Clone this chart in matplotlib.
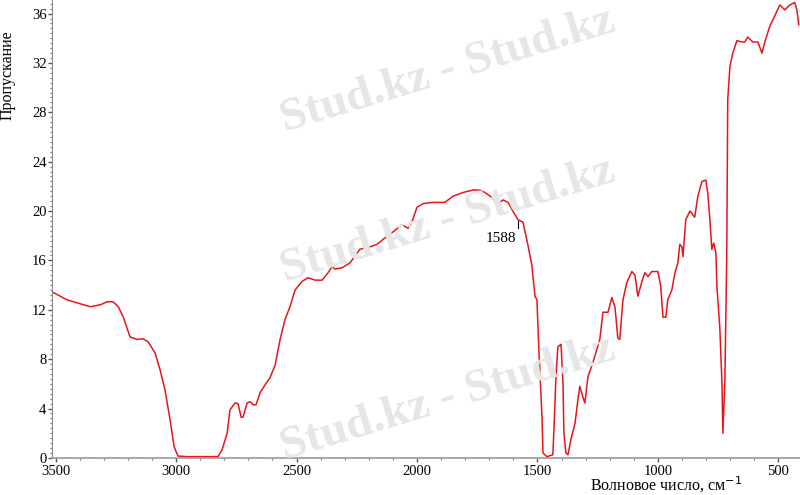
import numpy as np
import matplotlib.pyplot as plt
from matplotlib.ticker import MultipleLocator

# волновое число (см-1) и пропускание
wavenumber = [3510, 3452, 3357, 3315, 3286, 3261, 3240, 3220, 3191, 3162,
              3137, 3116, 3087, 3066, 3046, 3025, 3008, 2992, 2955, 2826,
              2809, 2788, 2776, 2755, 2743, 2730, 2722, 2705, 2693, 2680,
              2668, 2651, 2631, 2610, 2589, 2568, 2548, 2527, 2506, 2477,
              2452, 2423, 2394, 2369, 2353, 2340, 2311, 2278, 2237, 2195,
              2166, 2141, 2100, 2062, 2037, 2021, 2000, 1975, 1934, 1884,
              1851, 1809, 1768, 1739, 1718, 1689, 1664, 1643, 1622, 1602,
              1581, 1560, 1539, 1523, 1510, 1502, 1494, 1481, 1477, 1461,
              1436, 1432, 1423, 1415, 1402, 1394, 1390, 1382, 1373, 1361,
              1344, 1332, 1324, 1311, 1303, 1290, 1270, 1241, 1228, 1212,
              1207, 1191, 1178, 1166, 1158, 1145, 1129, 1108, 1095, 1083,
              1066, 1054, 1041, 1025, 1000, 988, 979, 967, 959, 942,
              929, 917, 909, 900, 896, 884, 867, 847, 834, 817,
              801, 793, 784, 776, 768, 759, 755, 743, 734, 730,
              722, 714, 710, 701, 689, 672, 651, 639, 627, 606,
              585, 568, 556, 535, 515, 494, 473, 452, 432, 423, 415]
transmission = [13.4, 12.8, 12.25, 12.4, 12.65, 12.65, 12.25, 11.45, 9.8, 9.6,
                9.65, 9.4, 8.5, 7.1, 5.5, 3.1, 0.9, 0.15, 0.1, 0.1,
                0.65, 2.0, 3.9, 4.45, 4.4, 3.3, 3.3, 4.45, 4.55, 4.3,
                4.3, 5.3, 5.9, 6.5, 7.5, 9.6, 11.2, 12.25, 13.6, 14.3,
                14.6, 14.4, 14.4, 15.0, 15.5, 15.3, 15.4, 15.8, 16.9, 17.1,
                17.3, 17.7, 18.3, 18.9, 18.6, 19.1, 20.3, 20.6, 20.7, 20.7,
                21.2, 21.5, 21.7, 21.7, 21.5, 21.1, 20.6, 20.9, 20.7, 20.0,
                19.3, 19.1, 17.2, 15.6, 13.1, 12.8, 8.8, 3.3, 0.4, 0.1,
                0.25, 2.0, 6.6, 9.0, 9.2, 6.1, 2.0, 0.4, 0.25, 1.5,
                2.8, 4.7, 5.8, 4.9, 4.45, 6.6, 7.7, 9.6, 11.8, 11.8,
                11.8, 13.0, 12.2, 9.7, 9.6, 12.8, 14.2, 15.1, 14.8, 13.1,
                14.3, 15.0, 14.7, 15.1, 15.1, 13.9, 11.4, 11.4, 12.8, 13.6,
                15.0, 15.8, 17.3, 17.1, 16.3, 19.3, 20.0, 19.5, 21.2, 22.4,
                22.5, 21.5, 19.3, 16.9, 17.4, 16.6, 13.9, 10.6, 6.1, 2.0,
                6.1, 16.5, 29.0, 31.7, 32.8, 33.8, 33.7, 33.7, 34.1, 33.7,
                33.7, 32.8, 33.7, 35.0, 35.8, 36.7, 36.3, 36.7, 36.9, 36.3, 35.1]

x_ticks = [3500, 3000, 2500, 2000, 1500, 1000, 500]
y_ticks = [0, 4, 8, 12, 16, 20, 24, 28, 32, 36]

plt.rcParams['font.family'] = ['Liberation Serif', 'DejaVu Serif']

fig = plt.figure(figsize=(8, 4.95), dpi=100)
ax = fig.add_axes([0.065, 0.075, 0.935, 0.925])

# водяной знак
for x0, y0 in [(285, 132), (285, 282), (285, 460)]:
    fig.text(x0 / 800, 1 - y0 / 495, 'Stud.kz - Stud.kz', fontsize=34,
             fontweight='bold', color='#e6e6e6', rotation=17,
             rotation_mode='anchor', ha='left', va='baseline', zorder=0)

ax.plot(wavenumber, transmission, color='#e8141c', lw=1.1)

ax.set_xlim(3515, 410)
ax.set_ylim(0, 37.1)
ax.set_xticks(x_ticks)
ax.set_yticks(y_ticks)
ax.xaxis.set_minor_locator(MultipleLocator(100))
ax.yaxis.set_minor_locator(MultipleLocator(0.4))
ax.tick_params(axis='both', which='major', labelsize=10.5, length=3,
               width=1, color='#555555', pad=2, direction='out')
ax.tick_params(axis='both', which='minor', length=1.5, width=0.8,
               color='#777777')
ax.tick_params(axis='y', pad=1)

for side in ['top', 'right']:
    ax.spines[side].set_visible(False)
ax.spines['left'].set_color('#888888')
ax.spines['bottom'].set_color('#999999')
ax.spines['bottom'].set_linewidth(1.2)
ax.patch.set_alpha(0)

# отметка пика 1588
ax.plot([1581, 1581], [19.2, 18.6], color='black', lw=0.8)
ax.text(1650, 17.8, '1588', fontsize=11, ha='center', va='center')

fig.text(8 / 800, 1 - 75 / 495, 'Пропускание', rotation=90, fontsize=11.5,
         ha='center', va='center')
fig.text(590 / 800, 0, 'Волновое число, см$^{-1}$', fontsize=11.5,
         ha='left', va='bottom')

fig.savefig('out.png', dpi=100)
